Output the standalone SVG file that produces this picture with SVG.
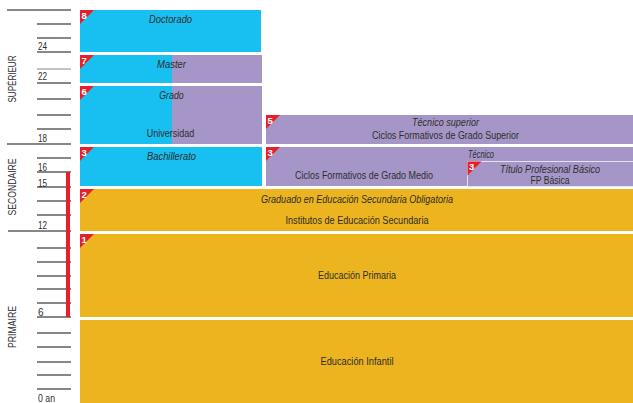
<svg xmlns="http://www.w3.org/2000/svg" width="633" height="403" viewBox="0 0 633 403">
<defs>
<style>
text{font-family:"Liberation Sans",Arial,sans-serif;fill:#2e2e2e;}
.c{fill:#17c0f1;}
.p{fill:#a696c8;}
.y{fill:#ecb41f;}
.t{font-size:10px;text-anchor:middle;}
.i{font-style:italic;}
.ax{font-size:10px;}
.lvl{font-size:10px;text-anchor:middle;}
.tk{stroke:#111;stroke-width:1.2;}
.bd{fill:#e6202b;}
.n{fill:#fff;font-size:9.5px;font-weight:bold;}
</style>
<path id="badge" class="bd" d="M0 0H14L0 14Z"/>
</defs>
<rect width="633" height="403" fill="#fff"/>

<g id="axis">
<g class="tk">
<line x1="7" y1="10" x2="71" y2="10"/>
<line x1="37" y1="24" x2="71" y2="24"/>
<line x1="37" y1="38" x2="71" y2="38"/>
<line x1="37" y1="52" x2="71" y2="52"/>
<line x1="37" y1="69" x2="71" y2="69" stroke="#888"/>
<line x1="37" y1="83" x2="71" y2="83"/>
<line x1="37" y1="99" x2="71" y2="99"/>
<line x1="37" y1="115" x2="71" y2="115"/>
<line x1="37" y1="129" x2="71" y2="129"/>
<line x1="7" y1="144" x2="71" y2="144"/>
<line x1="37" y1="158" x2="71" y2="158"/>
<line x1="37" y1="172" x2="71" y2="172"/>
<line x1="37" y1="187" x2="71" y2="187"/>
<line x1="37" y1="201" x2="71" y2="201"/>
<line x1="37" y1="215" x2="71" y2="215"/>
<line x1="8" y1="231" x2="71" y2="231"/>
<line x1="37" y1="248" x2="71" y2="248"/>
<line x1="37" y1="262" x2="71" y2="262"/>
<line x1="37" y1="276" x2="71" y2="276"/>
<line x1="37" y1="289" x2="71" y2="289"/>
<line x1="37" y1="303" x2="71" y2="303"/>
<line x1="37" y1="317" x2="71" y2="317"/>
<line x1="37" y1="333" x2="71" y2="333"/>
<line x1="37" y1="347" x2="71" y2="347"/>
<line x1="37" y1="362" x2="71" y2="362"/>
<line x1="37" y1="375" x2="71" y2="375"/>
<line x1="37" y1="389" x2="71" y2="389"/>
</g>
<rect x="66" y="172" width="4" height="145" fill="#e6202b"/>
<text class="ax" x="38" y="50" textLength="9" lengthAdjust="spacingAndGlyphs">24</text>
<text class="ax" x="38" y="80" textLength="9" lengthAdjust="spacingAndGlyphs">22</text>
<text class="ax" x="38" y="142" textLength="9" lengthAdjust="spacingAndGlyphs">18</text>
<text class="ax" x="38" y="170.5" textLength="9" lengthAdjust="spacingAndGlyphs">16</text>
<text class="ax" x="38" y="186.5" textLength="9" lengthAdjust="spacingAndGlyphs">15</text>
<text class="ax" x="38" y="229" textLength="9" lengthAdjust="spacingAndGlyphs">12</text>
<text class="ax" x="38" y="316">6</text>
<text class="ax" x="38" y="401.5" textLength="17" lengthAdjust="spacingAndGlyphs">0 an</text>
<text class="lvl" transform="translate(16,79) rotate(-90)" textLength="47" lengthAdjust="spacingAndGlyphs">SUPÉRIEUR</text>
<text class="lvl" transform="translate(16,187) rotate(-90)" textLength="57" lengthAdjust="spacingAndGlyphs">SECONDAIRE</text>
<text class="lvl" transform="translate(16,327) rotate(-90)" textLength="42" lengthAdjust="spacingAndGlyphs">PRIMAIRE</text>
</g>

<g id="doctorado">
<rect class="c" x="80" y="10" width="181" height="42"/>
<use href="#badge" x="80" y="10"/><text class="n" x="81.5" y="18.5">8</text>
<text class="t i" x="170.5" y="23" textLength="43" lengthAdjust="spacingAndGlyphs">Doctorado</text>
</g>

<g id="master">
<rect class="c" x="80" y="55" width="92" height="28"/>
<rect class="p" x="172" y="55" width="90" height="28"/>
<use href="#badge" x="80" y="55"/><text class="n" x="81.5" y="63.5">7</text>
<text class="t i" x="171.5" y="68" textLength="29" lengthAdjust="spacingAndGlyphs">Master</text>
</g>

<g id="grado">
<rect class="c" x="80" y="86" width="92" height="58"/>
<rect class="p" x="172" y="86" width="90" height="58"/>
<use href="#badge" x="80" y="86"/><text class="n" x="81.5" y="94.5">6</text>
<text class="t i" x="171.5" y="99" textLength="24.5" lengthAdjust="spacingAndGlyphs">Grado</text>
<text class="t" x="170.5" y="137" textLength="47.5" lengthAdjust="spacingAndGlyphs">Universidad</text>
</g>

<g id="bachillerato">
<rect class="c" x="80" y="147" width="182" height="39"/>
<use href="#badge" x="80" y="147"/><text class="n" x="81.5" y="155.5">3</text>
<text class="t i" x="171.5" y="160" textLength="49" lengthAdjust="spacingAndGlyphs">Bachillerato</text>
</g>

<g id="tecnico-superior">
<rect class="p" x="266" y="115" width="367" height="29"/>
<use href="#badge" x="266" y="115"/><text class="n" x="267.5" y="123.5">5</text>
<text class="t i" x="445.5" y="126" textLength="67" lengthAdjust="spacingAndGlyphs">Técnico superior</text>
<text class="t" x="445.5" y="139" textLength="147" lengthAdjust="spacingAndGlyphs">Ciclos Formativos de Grado Superior</text>
</g>

<g id="grado-medio">
<rect class="p" x="266" y="147" width="367" height="39"/>
<use href="#badge" x="266" y="147"/><text class="n" x="267.5" y="155.5">3</text>
<text class="i" x="468" y="157.5" style="font-size:10px" textLength="26" lengthAdjust="spacingAndGlyphs">Técnico</text>
<text class="t" x="364" y="179" textLength="138" lengthAdjust="spacingAndGlyphs">Ciclos Formativos de Grado Medio</text>
</g>

<g id="fp-basica">
<rect class="p" x="467.5" y="161.5" width="166" height="25" stroke="#e4e0f0" stroke-width="1"/>
<use href="#badge" x="467.5" y="161.5"/><text class="n" x="469" y="170">3</text>
<text class="t i" x="550" y="173" textLength="100" lengthAdjust="spacingAndGlyphs">Título Profesional Básico</text>
<text class="t" x="550" y="184" textLength="39" lengthAdjust="spacingAndGlyphs">FP Básica</text>
</g>

<g id="eso">
<rect class="y" x="80" y="189" width="553" height="42"/>
<use href="#badge" x="80" y="189"/><text class="n" x="81.5" y="197.5">2</text>
<text class="t i" x="357" y="203" textLength="192" lengthAdjust="spacingAndGlyphs">Graduado en Educación Secundaria Obligatoria</text>
<text class="t" x="357" y="224" textLength="143" lengthAdjust="spacingAndGlyphs">Institutos de Educación Secundaria</text>
</g>

<g id="primaria">
<rect class="y" x="80" y="234" width="553" height="83"/>
<use href="#badge" x="80" y="234"/><text class="n" x="81.5" y="242.5">1</text>
<text class="t" x="357" y="279" textLength="78" lengthAdjust="spacingAndGlyphs">Educación Primaria</text>
</g>

<g id="infantil">
<rect class="y" x="80" y="320" width="553" height="83"/>
<text class="t" x="357" y="365" textLength="73" lengthAdjust="spacingAndGlyphs">Educación Infantil</text>
</g>

<g id="connectors"></g>
</svg>
